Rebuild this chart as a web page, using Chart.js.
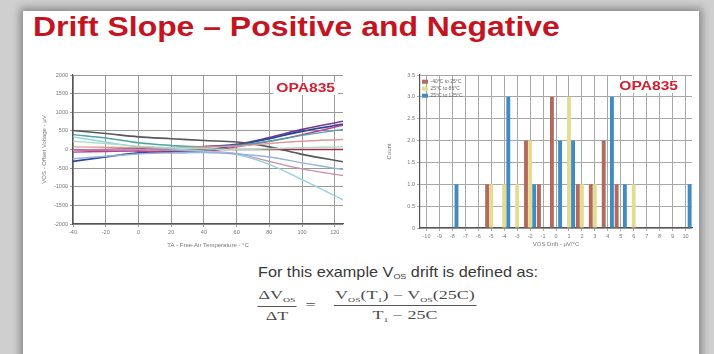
<!DOCTYPE html>
<html>
<head>
<meta charset="utf-8">
<script src="https://cdn.jsdelivr.net/npm/chart.js@4.4.1/dist/chart.umd.min.js"></script>
<style>
  html, body { margin: 0; padding: 0; }
  body { width: 714px; height: 354px; background: #cfcfcf; position: relative; overflow: hidden; font-family: "Liberation Sans", Arial, sans-serif; }
  #slide { position: absolute; left: 23px; top: 11px; width: 676px; height: 360px; background: #fff; box-shadow: 0 0 8px 3px rgba(0,0,0,0.35); }
  h1 { position: absolute; left: 33px; top: 11px; margin: 0; font-size: 28px; font-weight: bold; color: #c41422; transform: scaleX(1.14); transform-origin: 0 0; white-space: nowrap; }
  .cv { position: absolute; }
  #lead { position: absolute; left: 0; width: 796px; top: 264px; text-align: center; font-size: 14.5px; color: #3a3a3a; }
  #lead span { display: inline-block; transform: scaleX(1.12); }
  #lead sub { font-size: 8px; vertical-align: -2px; }
  #formula { position: absolute; left: 256px; top: 288px; display: flex; align-items: center; transform: scaleX(1.5); transform-origin: 0 0; font-family: "Liberation Serif", serif; font-size: 12px; color: #4a4a4a; }
  .frac { display: flex; flex-direction: column; align-items: center; }
  .frac .num { padding: 0 1px 2px; border-bottom: 1px solid #555; white-space: nowrap; }
  .frac .den { padding-top: 2px; white-space: nowrap; }
  .frac sub { font-size: 6.5px; }
  #eq { padding: 0 5px; font-size: 12px; }
</style>
</head>
<body>
<div id="slide"></div>
<h1>Drift Slope – Positive and Negative</h1>
<canvas id="left" class="cv" width="312" height="187" style="left:40px;top:65px;width:312px;height:187px"></canvas>
<canvas id="right" class="cv" width="318" height="185" style="left:380px;top:65px;width:318px;height:185px"></canvas>
<div id="lead"><span>For this example V<sub>OS</sub> drift is defined as:</span></div>
<div id="formula">
  <div class="frac" style="width:28px"><div class="num">ΔV<sub>OS</sub></div><div class="den">ΔT</div></div>
  <div id="eq">=</div>
  <div class="frac" style="width:109px"><div class="num">V<sub>OS</sub>(T<sub>1</sub>) − V<sub>OS</sub>(25C)</div><div class="den">T<sub>1</sub> − 25C</div></div>
</div>
<script>
// left chart: offset voltage vs temperature (uV)
const temps = [-40, -20, 0, 20, 40, 60, 80, 100, 125];
const tempTicks = [-40, -20, 0, 20, 40, 60, 80, 100, 120];
const vosTicks = [-2000, -1500, -1000, -500, 0, 500, 1000, 1500, 2000];
const unitA = [510, 430, 340, 290, 240, 200, 70, -130, -330];
const unitB = [-20, 0, 20, 50, 80, 140, 320, 540, 760];
const unitC = [-320, -200, -90, -50, -20, 110, 290, 490, 680];
const unitD = [400, 310, 180, 110, 70, 110, 220, 380, 540];
const unitE = [340, 200, 70, 20, -45, -135, -400, -810, -1350];
const unitF = [-20, -10, 0, -20, -45, -110, -320, -520, -700];
const unitG = [-20, -10, -10, -10, 0, 0, 0, 0, 0];
const unitH = [70, 60, 50, 50, 60, 90, 160, 220, 270];
const unitI = [-250, -180, -120, -90, -80, -120, -200, -360, -540];
const unitJ = [220, 160, 90, 50, 20, 0, 20, 50, 70];
const unitK = [-70, -55, -45, -80, -55, 70, 220, 400, 650];

// right chart: drift histogram
const driftBins = ["-10", "-9", "-8", "-7", "-6", "-5", "-4", "-3", "-2", "-1", "0",
  "1", "2", "3", "4", "5", "6", "7", "8", "9", "10"];
const cold = [0, 0, 0, 0, 0, 1, 0, 0, 2, 1, 3, 0, 1, 1, 2, 1, 0, 0, 0, 0, 0];
const hot85 = [0, 0, 0, 0, 0, 1, 1, 1, 2, 0, 0, 3, 1, 1, 0, 0, 1, 0, 0, 0, 0];
const hot125 = [0, 0, 1, 0, 0, 0, 3, 0, 1, 0, 2, 2, 0, 0, 3, 1, 0, 0, 0, 0, 1];
const legendNames = ["-40°C to 25°C", "25°C to 85°C", "25°C to 125°C"];

const tickFont = { size: 5.5, family: "Liberation Sans" };

// red part number in the top right corner of each plot
const partLabel = {
  id: "partLabel",
  afterDraw(chart, args, opts) {
    const { ctx, chartArea } = chart;
    ctx.save();
    ctx.font = "bold 12px Liberation Sans";
    const w = ctx.measureText("OPA835").width * 1.3;
    const x = chartArea.right - opts.dx - w;
    const y = chartArea.top + opts.dy;
    ctx.fillStyle = "#fff";
    ctx.fillRect(x - 3, y - 10, w + 6, 13);
    ctx.translate(x, y);
    ctx.scale(1.3, 1);
    ctx.fillStyle = "#d3202f";
    ctx.fillText("OPA835", 0, 0);
    ctx.restore();
  }
};

function line(data, color, w) {
  return {
    data: data.map((v, i) => ({ x: temps[i], y: v })),
    borderColor: color, borderWidth: w || 1.4, pointRadius: 0, fill: false, tension: 0.35
  };
}

new Chart(document.getElementById("left"), {
  type: "line",
  data: {
    datasets: [
      line(unitJ, "#a8dcc0"),
      line(unitH, "#dc9a98"),
      line(unitI, "#94b4e2"),
      line(unitE, "#93d3e3"),
      line(unitF, "#c58fae"),
      line(unitD, "#4da6a6"),
      line(unitG, "#a8284c"),
      line(unitK, "#b5409a"),
      line(unitA, "#55585c", 1.6),
      line(unitC, "#2f4799", 1.8),
      line(unitB, "#7a3a8e", 1.6)
    ]
  },
  options: {
    responsive: false,
    animation: false,
    layout: { padding: { top: 10, right: 9, left: 0, bottom: 0 } },
    plugins: { legend: { display: false }, tooltip: { enabled: false }, partLabel: { dx: 8, dy: 17 } },
    scales: {
      x: {
        type: "linear", min: -40, max: 125,
        afterBuildTicks: s => { s.ticks = tempTicks.map(v => ({ value: v })); },
        afterFit: s => { s.height = 28; },
        grid: { color: "#9a9a9a", lineWidth: 1, tickLength: 3 },
        border: { color: "#555", width: 1.2 },
        ticks: { font: tickFont, color: "#777", maxRotation: 0, padding: 2, callback: v => String(v) },
        title: { display: true, text: "TA - Free-Air Temperature - °C", font: { size: 6 }, color: "#777", padding: { top: 1, bottom: 3 } }
      },
      y: {
        type: "linear", min: -2000, max: 2000,
        afterBuildTicks: s => { s.ticks = vosTicks.map(v => ({ value: v })); },
        afterFit: s => { s.width = 33; },
        grid: { color: "#9a9a9a", lineWidth: 1, tickLength: 3 },
        border: { color: "#555", width: 1.2 },
        ticks: { font: tickFont, color: "#777", padding: 2, callback: v => String(v) },
        title: { display: true, text: "VOS - Offset Voltage - µV", font: { size: 6 }, color: "#777", padding: 1 }
      }
    }
  },
  plugins: [partLabel]
});

new Chart(document.getElementById("right"), {
  type: "bar",
  data: {
    labels: driftBins,
    datasets: [
      { label: legendNames[0], data: cold, backgroundColor: "#b26a5c" },
      { label: legendNames[1], data: hot85, backgroundColor: "#e4dc92" },
      { label: legendNames[2], data: hot125, backgroundColor: "#3f8cc4" }
    ]
  },
  options: {
    responsive: false,
    animation: false,
    layout: { padding: { top: 10, right: 6, left: 0, bottom: 0 } },
    datasets: { bar: { categoryPercentage: 0.95, barPercentage: 0.95 } },
    plugins: {
      tooltip: { enabled: false },
      partLabel: { dx: 14, dy: 15 },
      legend: {
        position: "chartArea", align: "start",
        title: { display: true, text: "", font: { size: 1 }, padding: { top: 11, bottom: 0 } },
        labels: { font: { size: 5, family: "Liberation Sans" }, color: "#666", boxWidth: 6, boxHeight: 4, padding: 2 }
      }
    },
    scales: {
      x: {
        afterFit: s => { s.height = 22; },
        grid: { color: "#a8a8a8", lineWidth: 1, offset: false, tickLength: 3 },
        border: { color: "#555", width: 1.2 },
        ticks: { font: tickFont, color: "#777", maxRotation: 0, autoSkip: false, padding: 2 },
        title: { display: true, text: "VOS Drift - µV/°C", font: { size: 6 }, color: "#777", padding: { top: 1, bottom: 2 } }
      },
      y: {
        min: 0, max: 3.5,
        ticks: { stepSize: 0.5, font: tickFont, color: "#777", padding: 2 },
        afterFit: s => { s.width = 40; },
        grid: { color: "#a8a8a8", lineWidth: 1, tickLength: 3 },
        border: { color: "#555", width: 1.2 },
        title: { display: true, text: "Count", font: { size: 6 }, color: "#777", padding: 6 }
      }
    }
  },
  plugins: [partLabel]
});
</script>
</body>
</html>
